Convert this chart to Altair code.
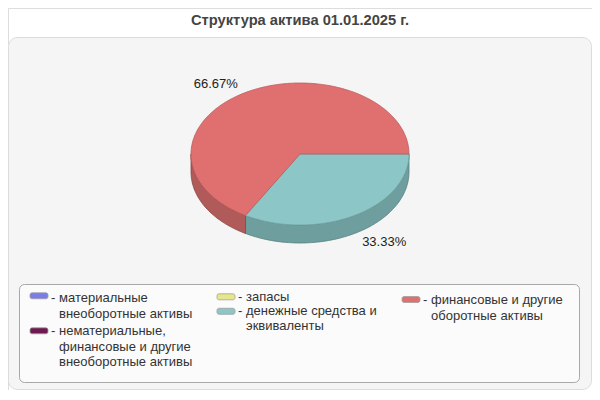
import altair as alt
import numpy as np
import pandas as pd

# ---------------- data ----------------
title_text = "Структура актива 01.01.2025 г."
categories = [
    "материальные внеоборотные активы",
    "нематериальные, финансовые и другие внеоборотные активы",
    "запасы",
    "денежные средства и эквиваленты",
    "финансовые и другие оборотные активы",
]
legend_lines = [
    ["материальные", "внеоборотные активы"],
    ["нематериальные,", "финансовые и другие", "внеоборотные активы"],
    ["запасы"],
    ["денежные средства и", "эквиваленты"],
    ["финансовые и другие", "оборотные активы"],
]
values = [0.0, 0.0, 0.0, 33.33, 66.67]

# ---------------- styles ----------------
top_colors = ["#7b7bea", "#6e1a50", "#e6e68c", "#8dc6c6", "#e07070"]
top_strokes = ["#5c5cb0", "#50123a", "#b0b060", "#6fa3a3", "#bb5a5a"]
side_colors = ["#5c5cb0", "#50123a", "#b0b060", "#6f9e9e", "#b05a5a"]
side_strokes = ["#454585", "#3a0d2a", "#85854a", "#557f7f", "#8c4545"]
FONT = "Liberation Sans"

W, H = 584, 382
CX, CY = 292.0, 146.0      # pie centre in chart pixels
RX, RY = 109.0, 71.0       # pie radii in pixels
DEPTH = 18.0 / RY          # thickness in y units
LABEL_K = 1.14

# ---------------- pie geometry from the values ----------------
total = sum(values)
top_rows, side_rows, label_rows = [], [], []
start = 0.0
for i, (cat, v) in enumerate(zip(categories, values)):
    if v <= 0:
        continue
    a0 = start
    a1 = start + v / total * 2 * np.pi
    start = a1
    n = int(np.degrees(a1 - a0)) + 2
    th = np.linspace(a0, a1, n)
    pts = [(0.0, 0.0)] + [(np.cos(t), np.sin(t)) for t in th] + [(0.0, 0.0)]
    for j, (x, y) in enumerate(pts):
        top_rows.append({"cat": cat, "x": x, "y": y, "o": j})
    s0, s1 = max(a0, 0.0), min(a1, np.pi)
    if s1 > s0:
        m = int(np.degrees(s1 - s0)) + 2
        ts = np.linspace(s0, s1, m)
        sp = [(np.cos(t), np.sin(t)) for t in ts]
        sp += [(np.cos(t), np.sin(t) + DEPTH) for t in ts[::-1]]
        sp += [sp[0]]
        for j, (x, y) in enumerate(sp):
            side_rows.append({"cat": cat, "x": x, "y": y, "o": j})
    mid = (a0 + a1) / 2
    lx = LABEL_K * np.cos(mid)
    ly = LABEL_K * np.sin(mid) + (DEPTH if np.sin(mid) > 0 else 0.0)
    label_rows.append({"x": lx, "y": ly, "t": f"{v:.2f}%",
                       "al": "right" if np.cos(mid) < 0 else "left"})

top_df = pd.DataFrame(top_rows)
side_df = pd.DataFrame(side_rows)
label_df = pd.DataFrame(label_rows)

xs = alt.Scale(domain=[-CX / RX, (W - CX) / RX], range=[0, W])
ys = alt.Scale(domain=[-CY / RY, (H - CY) / RY], range=[0, H])

sides = alt.Chart(side_df).mark_line(strokeWidth=0.8).encode(
    x=alt.X("x:Q", scale=xs, axis=None),
    y=alt.Y("y:Q", scale=ys, axis=None),
    fill=alt.Fill("cat:N", scale=alt.Scale(domain=categories, range=side_colors), legend=None),
    stroke=alt.Stroke("cat:N", scale=alt.Scale(domain=categories, range=side_strokes), legend=None),
    detail="cat:N",
    order="o:Q",
)
tops = alt.Chart(top_df).mark_line(strokeWidth=0.8).encode(
    x=alt.X("x:Q", scale=xs, axis=None),
    y=alt.Y("y:Q", scale=ys, axis=None),
    fill=alt.Fill("cat:N", scale=alt.Scale(domain=categories, range=top_colors), legend=None),
    stroke=alt.Stroke("cat:N", scale=alt.Scale(domain=categories, range=top_strokes), legend=None),
    detail="cat:N",
    order="o:Q",
)
lab_right = alt.Chart(label_df[label_df.al == "right"]).mark_text(
    align="right", baseline="middle", font=FONT, fontSize=13, color="#222222"
).encode(x=alt.X("x:Q", scale=xs, axis=None), y=alt.Y("y:Q", scale=ys, axis=None), text="t:N")
lab_left = alt.Chart(label_df[label_df.al == "left"]).mark_text(
    align="left", baseline="middle", font=FONT, fontSize=13, color="#222222"
).encode(x=alt.X("x:Q", scale=xs, axis=None), y=alt.Y("y:Q", scale=ys, axis=None), text="t:N")

# ---------------- frame / title ----------------
one = pd.DataFrame({"a": [0]})
panel = alt.Chart(one).mark_rect(
    fill="#f5f5f5", stroke="#dcdcdc", strokeWidth=1, cornerRadius=9
).encode(x=alt.value(0.5), x2=alt.value(W - 0.5), y=alt.value(29.5), y2=alt.value(H - 0.5))
title = alt.Chart(one).mark_text(
    text=title_text, font=FONT, fontSize=14.7, fontWeight="bold", color="#444444",
    align="center", baseline="middle"
).encode(x=alt.value(292), y=alt.value(12.5))

# ---------------- manual legend ----------------
legend_box = alt.Chart(one).mark_rect(
    fill="#fbfbfb", stroke="#a8a8a8", strokeWidth=1, cornerRadius=5
).encode(x=alt.value(11.5), x2=alt.value(571.5), y=alt.value(276.5), y2=alt.value(374.5))

col_x = [22, 22, 209, 209, 394]
sw_y = [287.8, 322.8, 288.8, 303.3, 291.5]
line0_y = [290.0, 323.0, 288.7, 303.0, 292.0]
line_gap = [16.0, 15.5, 16.0, 15.0, 16.0]

sw_df = pd.DataFrame({
    "cat": categories,
    "x": [c for c in col_x],
    "x2": [c + 18 for c in col_x],
    "y": [s - 3 for s in sw_y],
    "y2": [s + 3 for s in sw_y],
})
swatches = alt.Chart(sw_df).mark_rect(cornerRadius=2, stroke="#a0a0a0", strokeWidth=0.8).encode(
    x=alt.X("x:Q", scale=None), x2="x2:Q",
    y=alt.Y("y:Q", scale=None), y2="y2:Q",
    fill=alt.Fill("cat:N", scale=alt.Scale(domain=categories, range=top_colors), legend=None),
)
dash_df = pd.DataFrame({"x": [c + 21 for c in col_x], "y": line0_y, "t": ["-"] * len(categories)})
dashes = alt.Chart(dash_df).mark_text(
    align="left", baseline="middle", font=FONT, fontSize=13, color="#333333"
).encode(x=alt.X("x:Q", scale=None), y=alt.Y("y:Q", scale=None), text="t:N")

lt_rows = []
for i, lines in enumerate(legend_lines):
    for k, s in enumerate(lines):
        lt_rows.append({"x": col_x[i] + 29, "y": line0_y[i] + k * line_gap[i], "t": s})
lt_df = pd.DataFrame(lt_rows)
legend_text = alt.Chart(lt_df).mark_text(
    align="left", baseline="middle", font=FONT, fontSize=13, color="#333333"
).encode(x=alt.X("x:Q", scale=None), y=alt.Y("y:Q", scale=None), text="t:N")

chart = alt.layer(
    panel, title, legend_box, sides, tops, lab_right, lab_left, swatches, dashes, legend_text
).resolve_scale(fill="independent", stroke="independent").properties(
    width=W, height=H, padding=0, autosize=alt.AutoSizeParams(type="none")
).configure_view(stroke=None).configure(background="white")

chart.save("out.html", embed_options={"renderer": "svg", "actions": False})
